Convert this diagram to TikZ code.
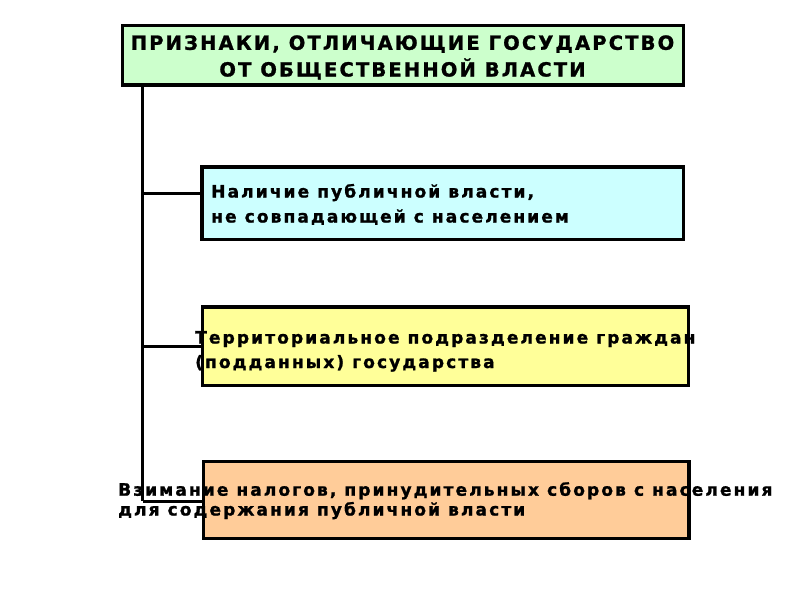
\documentclass[tikz,border=0pt]{standalone}
\usepackage{fontspec}
\setmainfont{DejaVu Sans}
\newfontfamily\lsfont[LetterSpace=12,BoldFeatures={FakeBold=1.2}]{DejaVu Sans}
\newfontfamily\lstitle[LetterSpace=11,BoldFeatures={FakeBold=1.2}]{DejaVu Sans}
\definecolor{cgreen}{HTML}{CCFFCC}
\definecolor{ccyan}{HTML}{CCFFFF}
\definecolor{cyellow}{HTML}{FFFF99}
\definecolor{corange}{HTML}{FFCC99}
\begin{document}
\begin{tikzpicture}[x=1pt,y=-1pt,
  box/.style={draw=none,inner sep=0pt},
  border/.style={draw=black,line width=3.5pt},
  title/.style={font=\lstitle\fontsize{19.5}{26}\selectfont\bfseries,inner sep=0pt,anchor=base},
  txt/.style={font=\lsfont\fontsize{17.1}{24}\selectfont\bfseries,inner sep=0pt,anchor=base west},
  link/.style={line width=3pt}]
\useasboundingbox[fill=white] (0,0) rectangle (800,600);
% fills
\node[box,fill=cgreen,minimum width=561pt,minimum height=59.5pt] (t) at (403,55.25) {};
\node[box,fill=ccyan,minimum width=481pt,minimum height=72.5pt] (b1) at (442.9,203.25) {};
\node[box,fill=cyellow,minimum width=486pt,minimum height=78.5pt] (b2) at (445.5,346.25) {};
\node[box,fill=corange,minimum width=485.5pt,minimum height=77pt] (b3) at (446.25,500) {};
% texts
\node[title] (t1) at (402.5,49.8) {ПРИЗНАКИ, ОТЛИЧАЮЩИЕ ГОСУДАРСТВО};
\node[title] (t2) at (402.5,76.5) {ОТ ОБЩЕСТВЕННОЙ ВЛАСТИ};
\node[txt] (x1a) at (211,197.5) {Наличие публичной власти,};
\node[txt] (x1b) at (211,222.5) {не совпадающей с населением};
\node[txt] (x2a) at (195,343.5) {Территориальное подразделение граждан};
\node[txt] (x2b) at (195,368) {(подданных) государства};
\node[txt] (x3a) at (118,495.7) {Взимание налогов, принудительных сборов с населения};
\node[txt] (x3b) at (118,515.5) {для содержания публичной власти};
% borders
\draw[border] (t.south west) rectangle (t.north east);
\draw[border] (b1.south west) rectangle (b1.north east);
\draw[border] (b2.south west) rectangle (b2.north east);
\draw[border] (b3.south west) rectangle (b3.north east);
% connectors
\coordinate (top) at (142.5,85);
\coordinate (j1) at (142.5,193);
\coordinate (j2) at (142.5,346);
\coordinate (j3) at (142.5,501);
\coordinate (e1) at (b1.west |- j1);
\coordinate (e2) at (b2.west |- j2);
\coordinate (e3) at (b3.west |- j3);
\draw[link] (top) -- (j3);
\draw[link] (j1) -- (e1);
\draw[link] (j2) -- (e2);
\draw[link] (j3) -- (e3);
\end{tikzpicture}
\end{document}
